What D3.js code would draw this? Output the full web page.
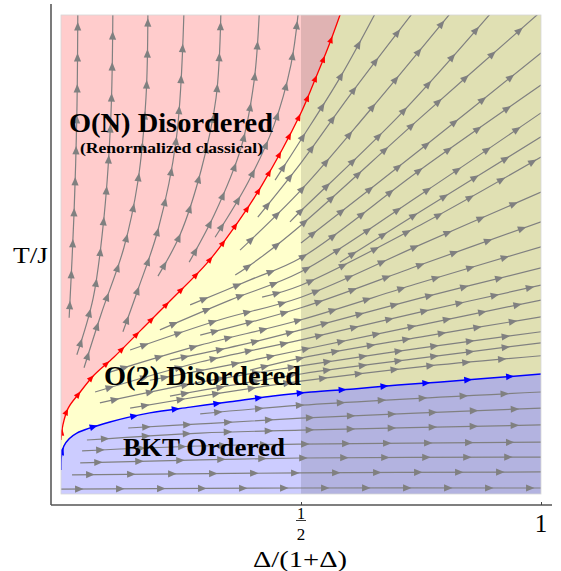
<!DOCTYPE html>
<html>
<head>
<meta charset="utf-8">
<script src="https://cdn.jsdelivr.net/npm/d3@7"></script>
<style>
  body { margin: 0; background: white; }
</style>
</head>
<body>
<div id="chart"></div>
<script>
// axis values
var xTicks = [0.5, 1];

// separatrices, [x, T]
var redSeparatrix = [[0, .1125], [.004, .144], [.015, .179], [.040, .2125], [.069, .248], [.110, .285],
  [.167, .342], [.229, .404], [.306, .483], [.369, .567], [.419, .644], [.498, .790], [.527, .858],
  [.556, .929], [.582, 1]];
var blueSeparatrix = [[0, .05], [.001, .08], [.006, .1], [.017, .115], [.033, .127], [.102, .15],
  [.185, .169], [.269, .181], [.352, .192], [.442, .204], [.521, .2125], [.610, .219], [.702, .227],
  [.785, .233], [.875, .24], [1, .25]];

// stream lines, O(N) disordered region
var pinkFlow = [
  [[.017, .367], [.027, .581], [.033, .790], [.035, 1]],
  [[.033, .29], [.067, .408], [.090, .581], [.104, .790], [.108, 1]],
  [[.048, .263], [.083, .373], [.131, .513], [.160, .650], [.177, .825], [.181, 1]],
  [[.129, .338], [.160, .425], [.202, .55], [.240, .738], [.256, 1]],
  [[.202, .454], [.248, .54], [.292, .675], [.323, .825], [.333, 1]],
  [[.267, .483], [.319, .581], [.375, .721], [.402, .858], [.413, 1]],
  [[.321, .535], [.390, .650], [.444, .769], [.479, .894], [.494, 1]]
];

// stream lines, O(2) disordered region
var yellowFlow = [
  [[.446, .654], [.5, .738], [.581, .867], [.654, 1]],
  [[.410, .577], [.5, .690], [.602, .831], [.731, 1]],
  [[.373, .508], [.5, .633], [.644, .8], [.810, 1]],
  [[.477, .567], [.5, .590], [.706, .790], [.894, 1]],
  [[.363, .456], [.415, .492], [.5, .560], [.748, .783], [.994, 1]],
  [[.5, .523], [.748, .717], [1, .919]],
  [[.269, .394], [.394, .446], [.5, .492], [.748, .675], [1, .852]],
  [[.206, .342], [.352, .404], [.5, .463], [.748, .623], [1, .794]],
  [[.581, .483], [.748, .588], [1, .744]],
  [[.419, .410], [.5, .435], [.748, .560], [1, .702]],
  [[.144, .3], [.331, .363], [.5, .410], [.748, .519], [1, .629]],
  [[.290, .331], [.5, .388], [.748, .477], [1, .567]],
  [[.102, .254], [.290, .310], [.5, .363], [.748, .44], [1, .515]],
  [[.227, .279], [.373, .31], [.5, .342], [.748, .408], [1, .471]],
  [[.071, .2125], [.290, .275], [.5, .321], [.748, .379], [1, .435]],
  [[.185, .237], [.352, .269], [.5, .3], [.748, .352], [1, .404]],
  [[.394, .258], [.5, .283], [.748, .327], [1, .369]],
  [[.081, .19], [.290, .233], [.5, .267], [.748, .304], [1, .338]],
  [[.227, .204], [.5, .25], [.748, .283], [1, .315]],
  [[.144, .179], [.331, .21], [.5, .235], [.748, .265], [1, .288]]
];

// stream lines, BKT ordered region
var blueFlow = [
  [[0, .01], [.498, .0125], [1, .0125]],
  [[.023, .04], [.5, .044], [1, .046]],
  [[.040, .065], [.290, .071], [.5, .075], [1, .077]],
  [[.044, .09], [.290, .1], [.5, .104], [1, .108]],
  [[.054, .1125], [.290, .127], [.5, .133], [1, .144]],
  [[.140, .1375], [.290, .146], [.5, .158], [1, .179]],
  [[.290, .167], [.5, .185], [1, .2125]]
];

var regionNames = ["O(N) Disordered", "(Renormalized classical)", "O(2) Disordered", "BKT Ordered"];

var width = 561;
var height = 571;
var serif = "'Liberation Serif', 'Times New Roman', Times, serif";

var svg = d3.select("#chart").append("svg")
  .attr("width", width)
  .attr("height", height)
  .attr("font-family", serif);

// Scales
var x = d3.scaleLinear().domain([0, 1]).range([61, 541]);
var y = d3.scaleLinear().domain([0, 1]).range([494, 14]);

svg.append("clipPath").attr("id", "plotclip")
  .append("rect")
  .attr("x", x(0)).attr("y", 15)
  .attr("width", x(1) - x(0)).attr("height", y(0) - 15);

var plot = svg.append("g").attr("clip-path", "url(#plotclip)");

// Phase regions
plot.append("rect")
  .attr("x", x(0)).attr("y", y(1))
  .attr("width", x(1) - x(0)).attr("height", y(0) - y(1))
  .style("fill", "#ffffcc");

var pinkArea = d3.area()
  .curve(d3.curveCatmullRom)
  .y(d => y(d[1]))
  .x0(x(0))
  .x1(d => x(d[0]));
plot.append("path").attr("d", pinkArea(redSeparatrix)).style("fill", "#ffcccc");

var blueArea = d3.area()
  .curve(d3.curveCatmullRom)
  .x(d => x(d[0]))
  .y0(y(0))
  .y1(d => y(d[1]));
plot.append("path").attr("d", blueArea(blueSeparatrix)).style("fill", "#ccccff");

// shaded half
plot.append("rect")
  .attr("x", x(0.5)).attr("y", y(1))
  .attr("width", x(1) - x(0.5)).attr("height", y(0) - y(1))
  .style("fill", "black")
  .style("opacity", 0.12);

// Stream lines
var line = d3.line()
  .curve(d3.curveCatmullRom)
  .x(d => x(d[0]))
  .y(d => y(d[1]));

function drawStream(data, color, lw, spacing, size) {
  var p = plot.append("path")
    .attr("d", line(data))
    .style("fill", "none")
    .style("stroke", color)
    .style("stroke-width", lw);
  var node = p.node();
  var len = node.getTotalLength();
  for (var d = spacing * 0.55; d < len - 3; d += spacing) {
    var a = node.getPointAtLength(d);
    var b = node.getPointAtLength(Math.max(0, d - 2));
    var ang = Math.atan2(a.y - b.y, a.x - b.x) * 180 / Math.PI;
    plot.append("path")
      .attr("d", "M0,0L" + (-size) + "," + (-size * 0.42) + "L" + (-size) + "," + (size * 0.42) + "Z")
      .attr("transform", "translate(" + a.x + "," + a.y + ") rotate(" + ang + ")")
      .style("fill", color);
  }
}

pinkFlow.forEach(d => drawStream(d, "#808080", 1.2, 31, 8.5));
yellowFlow.forEach(d => drawStream(d, "#808080", 1.2, 36, 8.5));
blueFlow.forEach(d => drawStream(d, "#808080", 1.2, 41, 8.5));
drawStream(redSeparatrix, "#ff0000", 1.3, 21, 7);
drawStream(blueSeparatrix, "#0000ff", 1.5, 42, 8);

// plot frame
svg.append("rect")
  .attr("x", x(0)).attr("y", 15)
  .attr("width", x(1) - x(0)).attr("height", y(0) - 15)
  .style("fill", "none")
  .style("stroke", "#d6d6d6")
  .style("stroke-width", 0.8);

// Axes
svg.append("line")
  .attr("x1", 51).attr("x2", 51).attr("y1", 4).attr("y2", 505)
  .style("stroke", "#333").style("stroke-width", 1.3);
svg.append("line")
  .attr("x1", 51).attr("x2", 552).attr("y1", 505).attr("y2", 505)
  .style("stroke", "#555").style("stroke-width", 1.3);

var xAxis = svg.append("g")
  .attr("transform", "translate(0,505)")
  .call(d3.axisBottom(x).tickValues(xTicks).tickSizeInner(-3).tickSizeOuter(0).tickFormat(""));
xAxis.select(".domain").remove();
xAxis.selectAll("line").style("stroke", "#444");

// tick labels
xTicks.forEach(function(t) {
  if (t === 0.5) {
    svg.append("text").attr("x", x(t)).attr("y", 519).attr("text-anchor", "middle")
      .attr("font-family", serif).style("font-size", "16px").text("1");
    svg.append("line").attr("x1", x(t) - 5).attr("x2", x(t) + 5).attr("y1", 520.5).attr("y2", 520.5)
      .style("stroke", "#222").style("stroke-width", 0.9);
    svg.append("text").attr("x", x(t)).attr("y", 540).attr("text-anchor", "middle")
      .attr("font-family", serif).style("font-size", "17px").text("2");
  } else {
    svg.append("text").attr("x", x(t)).attr("y", 532).attr("text-anchor", "middle")
      .attr("font-family", serif).style("font-size", "25px").text(d3.format("d")(t));
  }
});

// Axis titles
svg.append("text")
  .attr("x", 300).attr("y", 567)
  .attr("text-anchor", "middle")
  .attr("textLength", 94)
  .attr("lengthAdjust", "spacingAndGlyphs")
  .attr("font-family", serif)
  .style("font-size", "24px")
  .text("\u0394/(1+\u0394)");

svg.append("text")
  .attr("x", 13).attr("y", 263)
  .attr("textLength", 35)
  .attr("lengthAdjust", "spacingAndGlyphs")
  .attr("font-family", serif)
  .style("font-size", "24px")
  .text("T/J");

// Region labels
function label(txt, left, base, size, w) {
  svg.append("text")
    .attr("x", left).attr("y", base)
    .attr("textLength", w)
    .attr("lengthAdjust", "spacingAndGlyphs")
    .attr("font-family", serif)
    .style("font-size", size + "px")
    .style("font-weight", "bold")
    .text(txt);
}
label(regionNames[0], 69, 132, 27, 204);
label(regionNames[1], 80, 153, 14, 183);
label(regionNames[2], 104, 385, 27, 197);
label(regionNames[3], 123, 456, 26, 162);
</script>
</body>
</html>
